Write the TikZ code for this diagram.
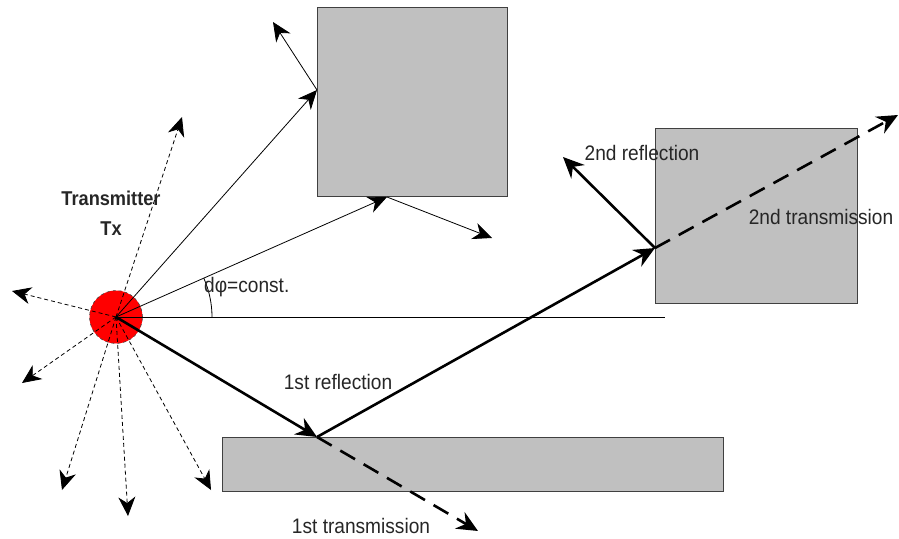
\documentclass[tikz,border=0pt]{standalone}
\usepackage{fontspec}
\setmainfont{Liberation Sans}
\usetikzlibrary{arrows.meta}
\definecolor{wallgray}{HTML}{C0C0C0}
\definecolor{wallline}{HTML}{404040}
\tikzset{
  wall/.style={draw=wallline, line width=1pt, fill=wallgray, inner sep=0pt, anchor=north west},
  thinray/.style={-{Stealth[length=19pt,width=17pt,inset=6pt]}, line width=0.8pt},
  dashray/.style={-{Stealth[length=19pt,width=17pt,inset=6pt]}, line width=0.8pt, dash pattern=on 4pt off 3pt},
  thickray/.style={-{Stealth[length=21pt,width=19pt,inset=7pt]}, line width=2.6pt},
  thickdash/.style={-{Stealth[length=21pt,width=19pt,inset=7pt]}, line width=2.6pt, dash pattern=on 17pt off 10pt},
  lbl/.style={font=\fontsize{21}{24}\selectfont, inner sep=0pt, xscale=0.91, transform shape, text=black!85},
}
\begin{document}
\begin{tikzpicture}[x=1pt, y=-1pt]
\useasboundingbox (0,0) rectangle (899,538);

% obstacles
\node[wall, minimum width=190pt, minimum height=189pt] (wallA) at (317,7) {};
\node[wall, minimum width=202pt, minimum height=175pt] (wallB) at (655,128) {};
\node[wall, minimum width=501pt, minimum height=54pt] (wallC) at (222,437) {};

% transmitter
\coordinate (tx) at (116,317);
\node[circle, fill=red, draw=wallline, dashed, line width=0.6pt, minimum size=53pt, inner sep=0pt] (txdisc) at (tx) {};

% reference direction
\coordinate (href) at (665,317);
\draw[line width=0.8pt] (tx) -- (href);

% hit points and end points
\coordinate (hitA1) at (317,90);
\coordinate (hitA2) at (387,197);
\coordinate (refA1) at (273,22);
\coordinate (refA2) at (492,238);
\coordinate (hitC) at (317,437);
\coordinate (hitB) at (655,248);
\coordinate (refB) at (563,157);
\coordinate (trB) at (898,115);
\coordinate (trC) at (478,531);

% scattered rays
\coordinate (d1) at (182,117);
\coordinate (d2) at (12,291);
\coordinate (d3) at (22,383);
\coordinate (d4) at (62,490);
\coordinate (d5) at (128,516);
\coordinate (d6) at (211,490);
\foreach \d in {d1,d2,d3,d4,d5,d6} \draw[dashray] (tx) -- (\d);

% rays towards the upper wall
\draw[thinray] (tx) -- (hitA1);
\draw[thinray] (hitA1) -- (refA1);
\draw[thinray] (tx) -- (hitA2);
\draw[thinray] (hitA2) -- (refA2);

% angular step
\draw[line width=0.8pt] (tx) ++(96,0) arc[start angle=0, end angle=-23.9, radius=96];

% traced path
\draw[thickray] (tx) -- (hitC);
\draw[thickdash] (hitC) -- (trC);
\draw[thickray] (hitC) -- (hitB);
\draw[thickray] (hitB) -- (refB);
\draw[thickdash] (hitB) -- (trB);

% labels
\node[lbl, font=\fontsize{20}{30}\selectfont\bfseries, align=center] (txlabel) at (111,213) {Transmitter\\Tx};
\node[lbl, anchor=west] (dphi) at (204,287) {dφ=const.};
\node[lbl] (r1) at (338,382) {1st reflection};
\node[lbl] (t1) at (361,526) {1st transmission};
\node[lbl] (r2) at (642,153) {2nd reflection};
\node[lbl] (t2) at (821,217) {2nd transmission};
\end{tikzpicture}
\end{document}
